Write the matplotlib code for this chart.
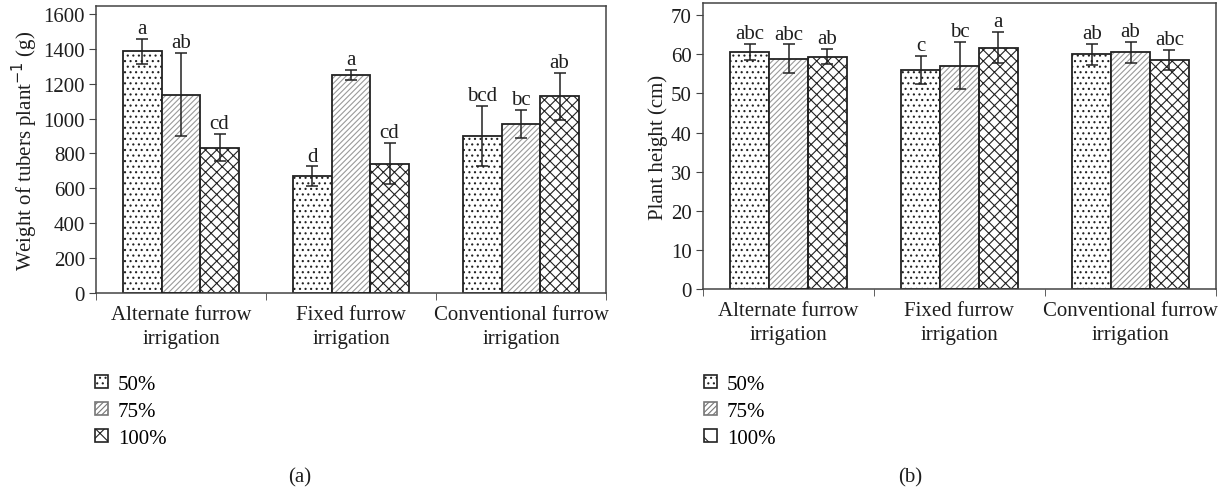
import matplotlib
matplotlib.use("Agg")
import matplotlib.pyplot as plt
import numpy as np
from matplotlib.patches import Patch

plt.rcParams['font.family'] = ['Liberation Serif', 'DejaVu Serif']
plt.rcParams['hatch.linewidth'] = 0.8

categories = ["Alternate furrow\nirrigation", "Fixed furrow\nirrigation", "Conventional furrow\nirrigation"]
levels = ["50%", "75%", "100%"]

# Panel (a): weight of tubers per plant (g)
wt_50 = [1385, 669, 903]
wt_75 = [1138, 1250, 970]
wt_100 = [833, 741, 1127]
wt_err_50 = [72, 57, 172]
wt_err_75 = [240, 27, 80]
wt_err_100 = [78, 117, 135]
wt_let_50 = ["a", "d", "bcd"]
wt_let_75 = ["ab", "a", "bc"]
wt_let_100 = ["cd", "cd", "ab"]

# Panel (b): plant height (cm)
ht_50 = [60.6, 56.0, 60.0]
ht_75 = [58.9, 57.1, 60.5]
ht_100 = [59.4, 61.7, 58.6]
ht_err_50 = [2.1, 3.6, 2.7]
ht_err_75 = [3.6, 6.0, 2.7]
ht_err_100 = [2.0, 4.0, 2.5]
ht_let_50 = ["abc", "c", "ab"]
ht_let_75 = ["abc", "bc", "ab"]
ht_let_100 = ["ab", "a", "abc"]

W, H = 1227, 489
fig = plt.figure(figsize=(W / 100, H / 100), dpi=100)

ax1 = fig.add_axes([96 / W, 1 - 294 / H, 510 / W, (294 - 7.3) / H])
ax2 = fig.add_axes([703 / W, 1 - 290 / H, 513 / W, (290 - 4) / H])

hatches = ['...', '//////', 'xxx']
bw = 0.227
spine_col = '#444444'
txt = '#1e1e1e'
FS = 15


def panel(ax, series, errs, lets, ylim, yticks, ylabel, off):
    x = np.arange(len(categories))
    for i, (vals, er, lt) in enumerate(zip(series, errs, lets)):
        pos = x + (i - 1) * bw
        if i == 1:
            ax.bar(pos, vals, bw, color='white', edgecolor='#9a9a9a', hatch=hatches[i], linewidth=0, zorder=2)
            ax.bar(pos, vals, bw, fill=False, edgecolor='#222222', linewidth=1.3, zorder=3)
        else:
            ax.bar(pos, vals, bw, color='white', edgecolor='#222222', hatch=hatches[i], linewidth=1.3, zorder=2)
        ax.errorbar(pos, vals, yerr=er, fmt='none', ecolor='#222222', elinewidth=1.1, capsize=4, capthick=1.1, zorder=4)
        for p, v, e, t in zip(pos, vals, er, lt):
            ax.text(p, v + e + off, t, ha='center', va='bottom', fontsize=FS, color=txt)
    ax.set_xlim(-0.5, len(categories) - 0.5)
    ax.set_ylim(*ylim)
    ax.set_yticks(yticks)
    ax.set_xticks(x)
    ax.set_xticklabels(categories, fontsize=FS, color=txt, linespacing=1.35)
    ax.tick_params(axis='x', length=0, pad=9)
    ax.set_xticks(np.arange(-0.5, len(categories)), minor=True)
    ax.tick_params(axis='x', which='minor', length=5, direction='out', color=spine_col)
    ax.tick_params(axis='y', length=5, direction='out', labelsize=FS, color=spine_col, labelcolor=txt, pad=3)
    ax.set_ylabel(ylabel, fontsize=FS, color=txt, labelpad=2)
    for s in ax.spines.values():
        s.set_color(spine_col)
        s.set_linewidth(1.1)


panel(ax1, [wt_50, wt_75, wt_100], [wt_err_50, wt_err_75, wt_err_100],
      [wt_let_50, wt_let_75, wt_let_100], (0, 1644), np.arange(0, 1601, 200),
      r"Weight of tubers plant$^{-1}$ (g)", 5)
panel(ax2, [ht_50, ht_75, ht_100], [ht_err_50, ht_err_75, ht_err_100],
      [ht_let_50, ht_let_75, ht_let_100], (0, 73.1), np.arange(0, 71, 10),
      "Plant height (cm)", 0.2)

handles = [Patch(facecolor='white', edgecolor='#222222', hatch=hatches[0], linewidth=1.2),
           Patch(facecolor='white', edgecolor='#777777', hatch=hatches[1], linewidth=1.2),
           Patch(facecolor='white', edgecolor='#222222', hatch='x', linewidth=1.2)]

for xl in (95, 704):
    fig.legend(handles, levels, loc='upper left', bbox_to_anchor=(xl / W, 1 - 376 / H),
               frameon=False, fontsize=FS, handlelength=0.6, handleheight=0.6,
               handletextpad=0.5, labelspacing=0.38, borderpad=0, borderaxespad=0)

fig.text(300 / W, 1 - 478 / H, "(a)", ha='center', va='center', fontsize=FS, color=txt)
fig.text(910 / W, 1 - 478 / H, "(b)", ha='center', va='center', fontsize=FS, color=txt)

fig.savefig("out.png", dpi=100)
